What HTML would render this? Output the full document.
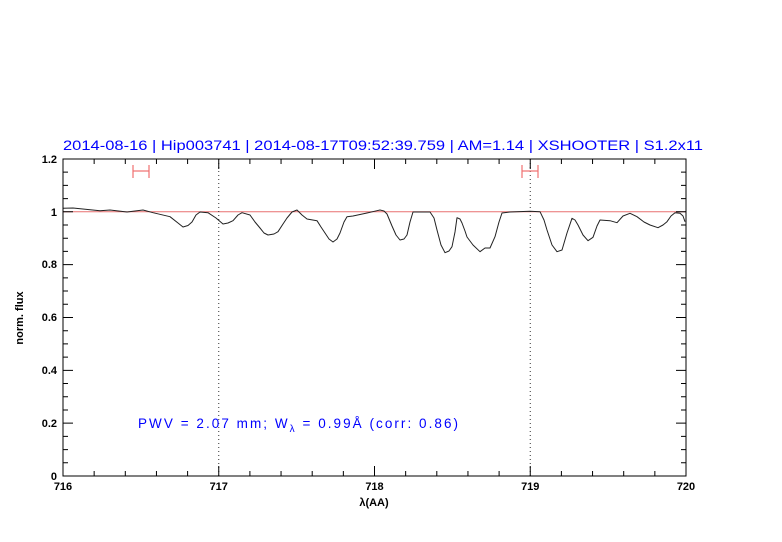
<!DOCTYPE html>
<html><head><meta charset="utf-8"><style>
body{margin:0;background:#fff}
svg{display:block}
text{font-family:"Liberation Sans",sans-serif}
</style></head><body>
<svg width="782" height="542" viewBox="0 0 782 542">
<rect width="782" height="542" fill="#fff"/>
<text x="63" y="150" font-size="13.5" fill="#0000ff" textLength="640" lengthAdjust="spacingAndGlyphs">2014-08-16 | Hip003741 | 2014-08-17T09:52:39.759 | AM=1.14 | XSHOOTER | S1.2x11</text>
<line x1="63" y1="211.8" x2="686" y2="211.8" stroke="#e87070" stroke-width="1"/>
<line x1="218.75" y1="159" x2="218.75" y2="476" stroke="#333" stroke-dasharray="1,3"/>
<line x1="530.25" y1="159" x2="530.25" y2="476" stroke="#333" stroke-dasharray="1,3"/>
<g stroke="#f07070" stroke-width="1.2">
<line x1="133" y1="171" x2="149" y2="171"/><line x1="133" y1="165" x2="133" y2="178"/><line x1="149" y1="165" x2="149" y2="178"/>
<line x1="522" y1="171" x2="538" y2="171"/><line x1="522" y1="165" x2="522" y2="178"/><line x1="538" y1="165" x2="538" y2="178"/>
</g>
<polyline fill="none" stroke="#222" stroke-width="1" stroke-linejoin="round" points="63,208.3 73,208 100,210.7 110,210 127,212 143,210 153,212.7 170,216.7 178,223 183,227 188,225.5 192,222 196,215 200,212 208,212.7 216,218 223,224 228,223 233,220.7 238,215 242,212.7 250,215 255,222 260,228 264,233 268,235 274,234 278,231.7 283,224 287,218 292,212 297,210 302,215 307,219 317,220.7 321,227 325,233 329,239 333,242 337,239 340,233 344,222 347,216.7 353,216 367,213 377,210.7 380,210 384,211 387,214 392,226 396,235 400,240 404,239 407,235 410,222 413,212 430,212 434,218 437,230 441,245 445,252.7 449,251 452,246.7 455,232 457,217.7 460,219 462,223 465,231 467,237 473,245 480,251.7 485,248 490,248 495,236.7 499,222 502,213 510,212 530,211.3 540,211.7 544,220 547,230 552,245 557,251.7 562,250 567,233 572,218.3 575,220 578,225 583,235 588,240.7 593,237.3 597,226 600,220 610,220.7 617,222.7 623,216 630,213.3 637,216.7 644,222 650,225 658,227.7 663,225 667,221.7 671,216 675,212.7 680,213.3 683,216 685,221.7"/>
<rect x="63" y="159" width="623" height="317" fill="none" stroke="#000" stroke-width="1"/>
<path stroke="#000" stroke-width="1" fill="none" d="
M63,476v-10M94.15,476v-5M125.3,476v-5M156.45,476v-5M187.6,476v-5M218.75,476v-10M249.9,476v-5M281.05,476v-5M312.2,476v-5M343.35,476v-5M374.5,476v-10M405.65,476v-5M436.8,476v-5M467.95,476v-5M499.1,476v-5M530.25,476v-10M561.4,476v-5M592.55,476v-5M623.7,476v-5M654.85,476v-5M686,476v-10
M63,159v10M94.15,159v5M125.3,159v5M156.45,159v5M187.6,159v5M218.75,159v10M249.9,159v5M281.05,159v5M312.2,159v5M343.35,159v5M374.5,159v10M405.65,159v5M436.8,159v5M467.95,159v5M499.1,159v5M530.25,159v10M561.4,159v5M592.55,159v5M623.7,159v5M654.85,159v5M686,159v10
M63,476h10M63,462.79h5M63,449.58h5M63,436.37h5M63,423.16h10M63,409.95h5M63,396.74h5M63,383.53h5M63,370.32h10M63,357.11h5M63,343.9h5M63,330.69h5M63,317.48h10M63,304.27h5M63,291.06h5M63,277.85h5M63,264.64h10M63,251.43h5M63,238.22h5M63,225.01h5M63,211.8h10M63,198.59h5M63,185.38h5M63,172.17h5M63,159h10
M686,476h-10M686,462.79h-5M686,449.58h-5M686,436.37h-5M686,423.16h-10M686,409.95h-5M686,396.74h-5M686,383.53h-5M686,370.32h-10M686,357.11h-5M686,343.9h-5M686,330.69h-5M686,317.48h-10M686,304.27h-5M686,291.06h-5M686,277.85h-5M686,264.64h-10M686,251.43h-5M686,238.22h-5M686,225.01h-5M686,211.8h-10M686,198.59h-5M686,185.38h-5M686,172.17h-5M686,159h-10"/>
<g font-size="11" font-weight="bold" fill="#000" text-anchor="middle">
<text x="63" y="490">716</text><text x="218.75" y="490">717</text><text x="374.5" y="490">718</text><text x="530.25" y="490">719</text><text x="686" y="490">720</text>
</g>
<g font-size="11" font-weight="bold" fill="#000" text-anchor="end">
<text x="57" y="480">0</text><text x="57" y="427">0.2</text><text x="57" y="374">0.4</text><text x="57" y="321">0.6</text><text x="57" y="268">0.8</text><text x="57" y="216">1</text><text x="57" y="163">1.2</text>
</g>
<text x="374" y="506" font-size="11" font-weight="bold" text-anchor="middle">λ(AA)</text>
<text transform="translate(23,318) rotate(-90)" font-size="11" font-weight="bold" text-anchor="middle">norm. flux</text>
<text x="138" y="428" font-size="13.5" fill="#0000ff" textLength="320" lengthAdjust="spacing">PWV = 2.07 mm; W<tspan font-size="10" dy="4">λ</tspan><tspan dy="-4"> = 0.99Å (corr: 0.86)</tspan></text>
</svg>
</body></html>
